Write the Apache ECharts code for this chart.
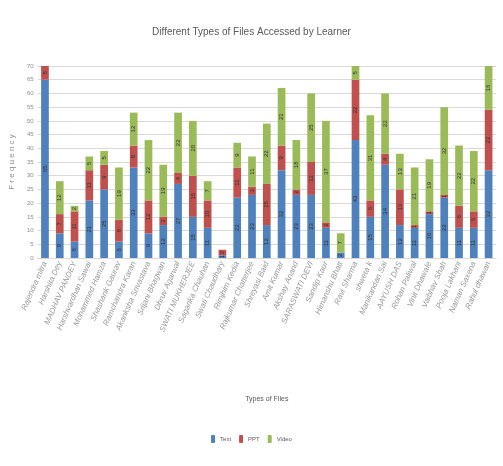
<!DOCTYPE html>
<html>
<head>
<meta charset="utf-8">
<script src="https://cdn.jsdelivr.net/npm/echarts@6/dist/echarts.min.js"></script>
<style>
  html, body { margin: 0; padding: 0; background: #fff; }
  #chart { width: 503px; height: 466px; }
</style>
</head>
<body>
<div id="chart"></div>
<script>
  // learners (x axis)
  const learners = [
    'Rajendra mitra', 'Harshita Dey', 'MADHAV PANDEY', 'Harshvardhan Sawai', 'Mohammed Hamza',
    'Shashank Gaurav', 'Ramchandra Karan', 'Akanksha Srivastava', 'Srijani Bhagwan', 'Dhruv Agarwal',
    'SWATI MUKHERJEE', 'Sagarika Chauhan', 'Swati Chaudhary', 'Rimjhim Kedia', 'Rajkumar Chatterjee',
    'Shreyasi Baid', 'Amit Kumar', 'Akshay Anand', 'SARASWATI DEVI', 'Sandip Kaur',
    'Himanshu Bhatt', 'Ravi Sharma', 'shweta k', 'Manikandan Sai', 'AAYUSH DAS',
    'Rohan Paliwal', 'Vinit Dhawale', 'Vaibhav Shah', 'Pooja Lakhani', 'Naman Saxena', 'Rahul dhawan'
  ];
  const textFiles  = [65, 9, 6, 21, 25, 6, 33, 9, 12, 27, 15, 11, 1, 22, 23, 12, 32, 23, 23, 11, 2, 43, 15, 34, 12, 11, 16, 22, 11, 11, 32];
  const pptFiles   = [5, 7, 11, 11, 9, 8, 8, 12, 3, 4, 15, 10, 2, 11, 3, 15, 9, 2, 12, 2, 0, 22, 6, 4, 13, 1, 1, 1, 8, 6, 22];
  const videoFiles = [0, 12, 2, 5, 5, 19, 12, 22, 19, 22, 20, 7, 0, 9, 11, 22, 21, 18, 25, 37, 7, 5, 31, 22, 13, 21, 19, 32, 22, 22, 16];

  const myChart = echarts.init(document.getElementById('chart'));

  const labelStyle = {
    show: true,
    rotate: 90,
    fontSize: 6,
    color: '#333',
    formatter: (p) => (p.value > 0 ? p.value : '')
  };

  function makeSeries(name, data, color) {
    return {
      name: name,
      type: 'bar',
      stack: 'files',
      data: data,
      barWidth: '52%',
      itemStyle: { color: color },
      label: labelStyle
    };
  }

  const option = {
    animation: false,
    textStyle: { fontFamily: 'Liberation Sans, sans-serif' },
    title: {
      text: 'Different Types of Files Accessed by Learner',
      left: 'center',
      top: 22,
      textStyle: {
        fontFamily: 'Liberation Sans, sans-serif',
        fontSize: 10,
        fontWeight: 'normal',
        color: '#595959'
      }
    },
    legend: {
      bottom: 18,
      left: 'center',
      itemWidth: 4,
      itemHeight: 8,
      itemGap: 8,
      textStyle: { fontSize: 6, color: '#595959' },
      data: ['Text', 'PPT', 'Video']
    },
    grid: {
      left: 25,
      right: 7,
      top: 66,
      bottom: 208
    },
    xAxis: {
      type: 'category',
      data: learners,
      name: 'Types of Files',
      nameLocation: 'middle',
      nameGap: 138,
      nameTextStyle: { fontSize: 7, color: '#595959' },
      axisTick: { show: false },
      axisLine: { lineStyle: { color: '#d9d9d9' } },
      axisLabel: {
        rotate: 66,
        interval: 0,
        fontSize: 8,
        fontStyle: 'italic',
        color: '#9a9a9a',
        margin: 4
      }
    },
    yAxis: {
      type: 'value',
      min: 0,
      max: 70,
      interval: 5,
      name: 'F r e q u e n c y',
      nameLocation: 'middle',
      nameGap: 15,
      nameTextStyle: { fontSize: 8, color: '#8c8c8c' },
      axisLabel: { fontSize: 6, color: '#8c8c8c', margin: 4 },
      splitLine: { lineStyle: { color: '#d9d9d9' } }
    },
    series: [
      makeSeries('Text', textFiles, '#4f81bd'),
      makeSeries('PPT', pptFiles, '#c0504d'),
      makeSeries('Video', videoFiles, '#9bbb59')
    ]
  };

  myChart.setOption(option);
</script>
</body>
</html>
